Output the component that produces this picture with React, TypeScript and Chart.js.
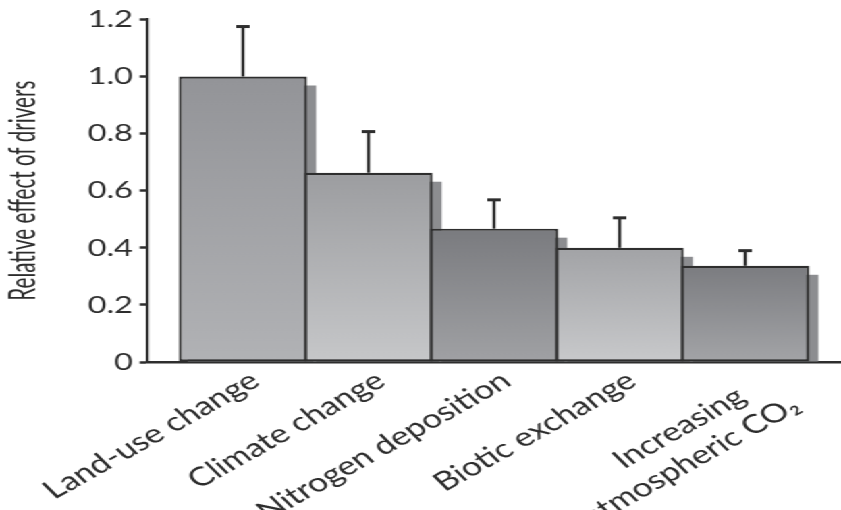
import React, { useEffect, useRef } from "react";
import { Chart, registerables } from "chart.js";

Chart.register(...registerables);

// ---- data ----
const categories: (string | string[])[] = [
  "Land-use change",
  "Climate change",
  "Nitrogen deposition",
  "Biotic exchange",
  ["Increasing    ", "atmospheric CO\u2082"],
];
const values = [1.0, 0.663, 0.467, 0.4, 0.337];
const errorUpper = [1.175, 0.807, 0.568, 0.505, 0.39];
const yTicks = [0, 0.2, 0.4, 0.6, 0.8, 1.0, 1.2];
const yTitle = "Relative effect of drivers";
const topColors = ["#939498", "#9c9da0", "#7a7b7f", "#a2a3a6", "#7b7c80"];
const bottomColors = ["#b1b2b5", "#c6c7c9", "#a0a1a4", "#c8c9cb", "#a3a4a7"];

const INK = "#2e2e2e";
const TEXT = "#2c2c2c";
// the figure is drawn narrower and stretched horizontally, like the reference
const STRETCH = 1.35;
const W = Math.round(841 / STRETCH);
const H = 510;
// the two-line label sits a little to the right of its bar
const LAST_LABEL_SHIFT = 0.1;

const shadowPlugin = {
  id: "barShadow",
  beforeDatasetsDraw(chart: any) {
    const ctx = chart.ctx;
    const meta = chart.getDatasetMeta(0);
    ctx.save();
    ctx.fillStyle = "#8c8d90";
    ctx.filter = "blur(0.7px)";
    meta.data.forEach((bar: any) => {
      const p = bar.getProps(["x", "y", "base", "width"], true);
      const left = p.x - p.width / 2 + 6.7;
      const top = p.y + 9;
      ctx.fillRect(left, top, p.width, p.base - top);
    });
    ctx.restore();
  },
};

const errorPlugin = {
  id: "errorBars",
  afterDatasetsDraw(chart: any) {
    const ctx = chart.ctx;
    const meta = chart.getDatasetMeta(0);
    const ys = chart.scales.y;
    ctx.save();
    ctx.strokeStyle = INK;
    meta.data.forEach((bar: any, i: number) => {
      const p = bar.getProps(["x", "y"], true);
      const yE = ys.getPixelForValue(errorUpper[i]);
      ctx.lineWidth = 2.3;
      ctx.beginPath();
      ctx.moveTo(p.x, p.y);
      ctx.lineTo(p.x, yE);
      ctx.stroke();
      ctx.lineWidth = 3;
      ctx.beginPath();
      ctx.moveTo(p.x - 5, yE);
      ctx.lineTo(p.x + 5, yE);
      ctx.stroke();
    });
    ctx.restore();
  },
};

const titlePlugin = {
  id: "yTitleCondensed",
  afterDraw(chart: any) {
    const ctx = chart.ctx;
    const area = chart.chartArea;
    const cy = (area.top + area.bottom) / 2;
    ctx.save();
    ctx.font = "27px Lato";
    ctx.fillStyle = TEXT;
    ctx.textAlign = "center";
    ctx.textBaseline = "middle";
    const w = ctx.measureText(yTitle).width;
    ctx.translate(17, cy);
    ctx.rotate(-Math.PI / 2);
    ctx.scale(220 / w, 1);
    ctx.fillText(yTitle, 0, 0);
    ctx.restore();
  },
};

export default function App() {
  const ref = useRef<HTMLCanvasElement | null>(null);

  useEffect(() => {
    if (!ref.current) return;
    const chart = new Chart(ref.current, {
      type: "bar",
      data: {
        datasets: [
          {
            data: values.map((v, i) => ({ x: i, y: v })),
            backgroundColor: (c: any) => {
              const ch = c.chart;
              const i = c.dataIndex ?? 0;
              if (!ch.chartArea || !ch.scales.y) return topColors[i];
              const ys = ch.scales.y;
              const g = ch.ctx.createLinearGradient(
                0,
                ys.getPixelForValue(values[i]),
                0,
                ys.getPixelForValue(0)
              );
              g.addColorStop(0, topColors[i]);
              g.addColorStop(1, bottomColors[i]);
              return g;
            },
            borderColor: INK,
            borderWidth: 2.2,
            borderSkipped: false,
            categoryPercentage: 1,
            barPercentage: 1.022,
          } as any,
        ],
      },
      options: {
        animation: false,
        responsive: false,
        events: [],
        layout: { padding: { top: 18, left: 0, right: 0, bottom: 0 } },
        plugins: {
          legend: { display: false },
          tooltip: { enabled: false },
        },
        scales: {
          x: {
            type: "linear",
            offset: false,
            min: -0.763,
            max: 4.763,
            afterBuildTicks: (s: any) => {
              s.ticks = categories.map((_, i) => ({
                value: i === categories.length - 1 ? i + LAST_LABEL_SHIFT : i,
              }));
            },
            afterFit: (s: any) => {
              s.height = 148;
            },
            ticks: {
              autoSkip: false,
              minRotation: 37,
              maxRotation: 37,
              padding: 3,
              labelOffset: 9,
              color: TEXT,
              font: { family: "Lato", size: 26 },
              callback: (_v: any, i: number) => categories[i],
            },
            grid: { drawOnChartArea: false, drawTicks: false },
            border: { display: true, color: INK, width: 2.5 },
          } as any,
          y: {
            min: 0,
            max: 1.2,
            afterBuildTicks: (s: any) => {
              s.ticks = yTicks.map((v) => ({ value: v }));
            },
            afterFit: (s: any) => {
              s.width = 109;
            },
            ticks: {
              padding: 5,
              color: TEXT,
              font: { family: "Lato", size: 24 },
              callback: (v: any) => (v === 0 ? "0" : Number(v).toFixed(1)),
            },
            grid: {
              drawOnChartArea: false,
              drawTicks: true,
              tickLength: 5.5,
              tickWidth: 2.5,
              tickColor: INK,
            },
            border: { display: true, color: INK, width: 2.2 },
            title: { display: false },
          } as any,
        },
      },
      plugins: [shadowPlugin, errorPlugin, titlePlugin],
    });
    return () => chart.destroy();
  }, []);

  return (
    <div
      style={{
        position: "absolute",
        left: 0,
        top: 0,
        width: W,
        height: H,
        background: "#fff",
        transform: `scaleX(${841 / W})`,
        transformOrigin: "0 0",
      }}
    >
      <canvas ref={ref} width={W} height={H} style={{ display: "block" }} />
    </div>
  );
}
